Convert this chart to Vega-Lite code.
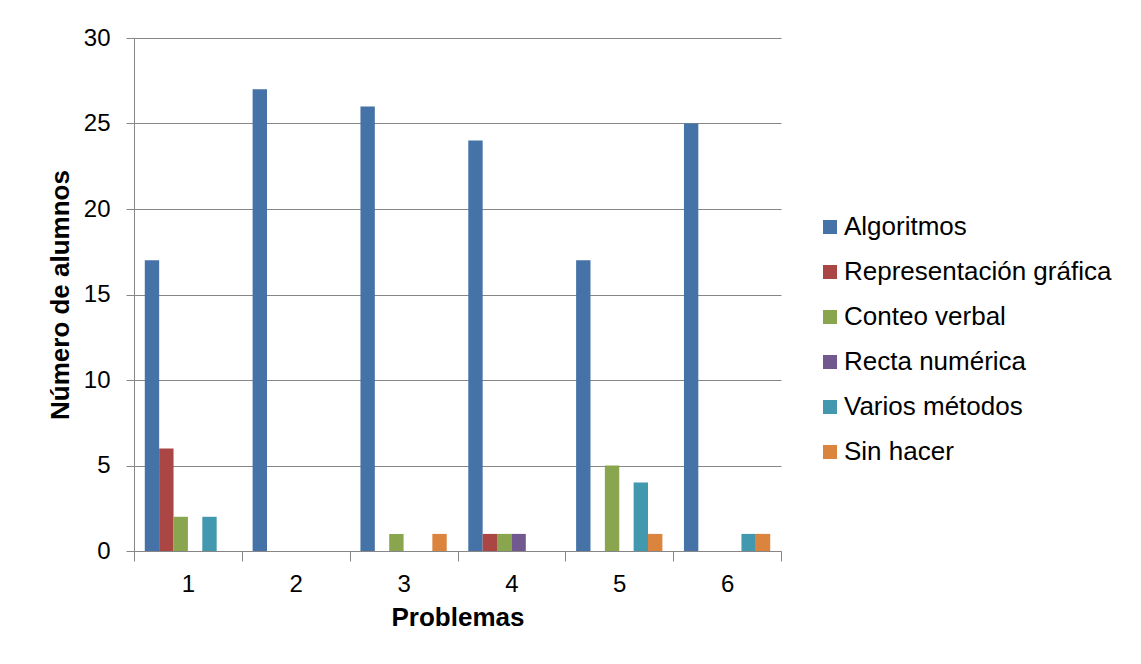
{
  "$schema": "https://vega.github.io/schema/vega-lite/v6.json",
  "width": 647,
  "height": 513,
  "autosize": "none",
  "padding": {"left": 134, "top": 38, "right": 360, "bottom": 113},
  "background": "white",
  "data": {"values": [
    {"problema": "1", "metodo": "Algoritmos", "alumnos": 17},
    {"problema": "1", "metodo": "Representación gráfica", "alumnos": 6},
    {"problema": "1", "metodo": "Conteo verbal", "alumnos": 2},
    {"problema": "1", "metodo": "Recta numérica", "alumnos": 0},
    {"problema": "1", "metodo": "Varios métodos", "alumnos": 2},
    {"problema": "1", "metodo": "Sin hacer", "alumnos": 0},
    {"problema": "2", "metodo": "Algoritmos", "alumnos": 27},
    {"problema": "2", "metodo": "Representación gráfica", "alumnos": 0},
    {"problema": "2", "metodo": "Conteo verbal", "alumnos": 0},
    {"problema": "2", "metodo": "Recta numérica", "alumnos": 0},
    {"problema": "2", "metodo": "Varios métodos", "alumnos": 0},
    {"problema": "2", "metodo": "Sin hacer", "alumnos": 0},
    {"problema": "3", "metodo": "Algoritmos", "alumnos": 26},
    {"problema": "3", "metodo": "Representación gráfica", "alumnos": 0},
    {"problema": "3", "metodo": "Conteo verbal", "alumnos": 1},
    {"problema": "3", "metodo": "Recta numérica", "alumnos": 0},
    {"problema": "3", "metodo": "Varios métodos", "alumnos": 0},
    {"problema": "3", "metodo": "Sin hacer", "alumnos": 1},
    {"problema": "4", "metodo": "Algoritmos", "alumnos": 24},
    {"problema": "4", "metodo": "Representación gráfica", "alumnos": 1},
    {"problema": "4", "metodo": "Conteo verbal", "alumnos": 1},
    {"problema": "4", "metodo": "Recta numérica", "alumnos": 1},
    {"problema": "4", "metodo": "Varios métodos", "alumnos": 0},
    {"problema": "4", "metodo": "Sin hacer", "alumnos": 0},
    {"problema": "5", "metodo": "Algoritmos", "alumnos": 17},
    {"problema": "5", "metodo": "Representación gráfica", "alumnos": 0},
    {"problema": "5", "metodo": "Conteo verbal", "alumnos": 5},
    {"problema": "5", "metodo": "Recta numérica", "alumnos": 0},
    {"problema": "5", "metodo": "Varios métodos", "alumnos": 4},
    {"problema": "5", "metodo": "Sin hacer", "alumnos": 1},
    {"problema": "6", "metodo": "Algoritmos", "alumnos": 25},
    {"problema": "6", "metodo": "Representación gráfica", "alumnos": 0},
    {"problema": "6", "metodo": "Conteo verbal", "alumnos": 0},
    {"problema": "6", "metodo": "Recta numérica", "alumnos": 0},
    {"problema": "6", "metodo": "Varios métodos", "alumnos": 1},
    {"problema": "6", "metodo": "Sin hacer", "alumnos": 1}
  ]},
  "mark": {"type": "bar"},
  "encoding": {
    "x": {
      "field": "problema", "type": "nominal",
      "scale": {"paddingInner": 0, "paddingOuter": 0},
      "axis": {
        "title": "Problemas", "labelAngle": 0, "bandPosition": 0,
        "tickBand": "extent",
        "labelFont": "Liberation Sans", "labelFontSize": 24, "labelColor": "black",
        "labelPadding": 11, "tickSize": 10, "tickColor": "#868686", "domainColor": "#868686",
        "titleFont": "Liberation Sans", "titleFontSize": 26, "titleFontWeight": "bold", "titleColor": "black",
        "titlePadding": 8, "grid": false
      }
    },
    "xOffset": {
      "field": "metodo", "type": "nominal",
      "sort": ["Algoritmos", "Representación gráfica", "Conteo verbal", "Recta numérica", "Varios métodos", "Sin hacer"],
      "scale": {"paddingInner": 0, "paddingOuter": 0.75}
    },
    "y": {
      "field": "alumnos", "type": "quantitative",
      "scale": {"domain": [0, 30], "nice": false},
      "axis": {
        "title": "Número de alumnos", "values": [0, 5, 10, 15, 20, 25, 30],
        "labelFont": "Liberation Sans", "labelFontSize": 24, "labelColor": "black",
        "labelPadding": 16, "tickSize": 8, "tickColor": "#868686", "domainColor": "#868686",
        "gridColor": "#868686", "gridWidth": 1,
        "titleFont": "Liberation Sans", "titleFontSize": 26, "titleFontWeight": "bold", "titleColor": "black",
        "titlePadding": 10
      }
    },
    "color": {
      "field": "metodo", "type": "nominal",
      "sort": ["Algoritmos", "Representación gráfica", "Conteo verbal", "Recta numérica", "Varios métodos", "Sin hacer"],
      "scale": {
        "domain": ["Algoritmos", "Representación gráfica", "Conteo verbal", "Recta numérica", "Varios métodos", "Sin hacer"],
        "range": ["#4572A7", "#AA4643", "#89A54E", "#71588F", "#4198AF", "#DB843D"]
      },
      "legend": {
        "title": null, "orient": "none", "legendX": 683, "legendY": 176,
        "symbolType": "square", "symbolSize": 196, "symbolStrokeWidth": 0,
        "labelFont": "Liberation Sans", "labelFontSize": 26, "labelColor": "black",
        "labelOffset": 1, "rowPadding": 19, "labelLimit": 400
      }
    }
  },
  "config": {"view": {"stroke": null}}
}
